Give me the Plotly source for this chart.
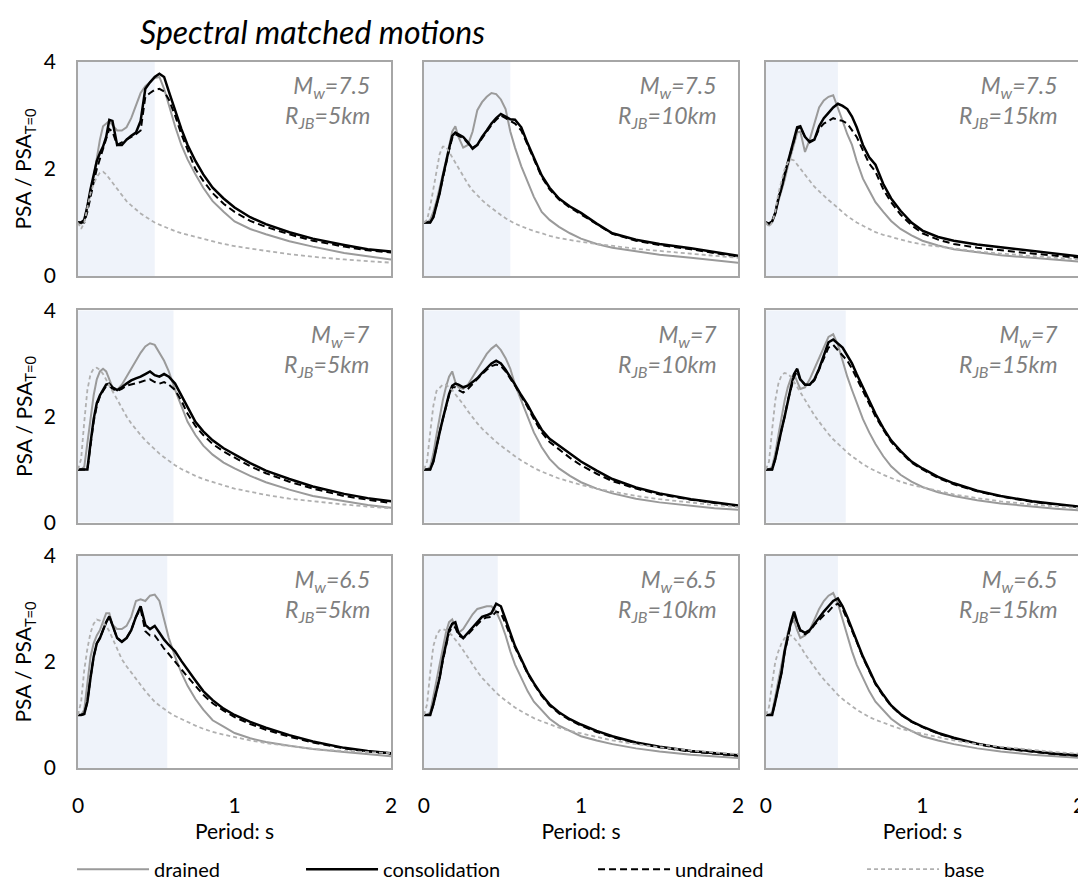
import plotly.graph_objects as go

# ---------------- data ----------------
periods = [0, 0.02, 0.04, 0.06, 0.08, 0.10, 0.12, 0.14, 0.16, 0.18,
           0.20, 0.22, 0.25, 0.28, 0.31, 0.34, 0.37, 0.40, 0.43, 0.46,
           0.49, 0.52, 0.55, 0.58, 0.62, 0.66, 0.70, 0.75, 0.80, 0.86,
           0.93, 1.0, 1.1, 1.2, 1.35, 1.5, 1.7, 1.85, 2.0]

mw_labels = ["7.5", "7", "6.5"]
rjb_labels = ["5", "10", "15"]
series_names = ["drained", "consolidation", "undrained", "base"]
x_ticks = [0, 1, 2]
y_ticks = [0, 2, 4]

# shaded period range upper bound per panel (row-major)
shade_end = [0.49, 0.55, 0.46, 0.61, 0.61, 0.51, 0.57, 0.47, 0.46]

# Mw 7.5
drained_75_5 = [1.0,0.98,1.05,1.3,1.6,1.85,2.2,2.55,2.8,2.85, 2.9,2.82,2.72,2.72,2.78,2.95,3.2,3.42,3.55,3.62, 3.7,3.72,3.5,3.2,2.8,2.45,2.18,1.9,1.65,1.4, 1.2,1.02,0.88,0.78,0.65,0.55,0.43,0.37,0.31]
consol_75_5 = [1.0,1.0,1.05,1.3,1.62,1.9,2.15,2.3,2.42,2.6, 2.92,2.9,2.45,2.45,2.55,2.62,2.68,2.9,3.5,3.62, 3.72,3.78,3.72,3.45,3.1,2.75,2.45,2.15,1.9,1.65, 1.45,1.28,1.1,0.97,0.82,0.7,0.58,0.5,0.46]
undr_75_5 = [1.0,1.0,1.0,1.2,1.5,1.75,2.0,2.2,2.35,2.55, 2.75,2.7,2.45,2.5,2.55,2.6,2.65,2.72,3.35,3.42, 3.48,3.5,3.45,3.3,3.0,2.65,2.35,2.0,1.78,1.55, 1.35,1.2,1.03,0.92,0.78,0.66,0.55,0.48,0.44]
base_75_5 = [1.0,0.88,1.0,1.3,1.55,1.72,1.85,1.93,1.95,1.9, 1.82,1.74,1.62,1.5,1.4,1.32,1.24,1.17,1.11,1.05, 1.0,0.96,0.92,0.88,0.84,0.8,0.77,0.73,0.69,0.65, 0.6,0.56,0.51,0.47,0.41,0.36,0.31,0.28,0.25]

drained_75_10 = [1.0,1.0,1.05,1.2,1.4,1.63,1.9,2.15,2.42,2.7, 2.8,2.6,2.4,2.45,2.7,3.1,3.25,3.35,3.42,3.4, 3.3,3.12,2.7,2.4,2.05,1.75,1.48,1.2,1.05,0.92, 0.8,0.7,0.6,0.53,0.46,0.4,0.34,0.29,0.25]
consol_75_10 = [1.0,1.0,1.0,1.1,1.3,1.55,1.85,2.15,2.38,2.62, 2.68,2.65,2.6,2.5,2.38,2.45,2.6,2.72,2.85,2.95, 3.03,2.98,2.93,2.92,2.78,2.48,2.2,1.88,1.65,1.45, 1.3,1.18,0.98,0.8,0.68,0.6,0.52,0.45,0.38]
undr_75_10 = [1.0,1.0,1.0,1.1,1.3,1.55,1.82,2.12,2.35,2.58, 2.65,2.62,2.58,2.48,2.4,2.45,2.58,2.7,2.82,2.92, 3.0,2.95,2.9,2.85,2.72,2.45,2.18,1.85,1.62,1.43, 1.28,1.15,0.96,0.79,0.66,0.58,0.5,0.43,0.36]
base_75_10 = [1.0,1.05,1.3,1.6,1.95,2.28,2.42,2.42,2.32,2.22, 2.1,2.0,1.85,1.72,1.6,1.5,1.42,1.34,1.27,1.2, 1.14,1.08,1.03,0.98,0.93,0.88,0.84,0.8,0.75,0.71, 0.67,0.64,0.6,0.56,0.51,0.47,0.42,0.38,0.34]

drained_75_15 = [1.0,0.95,1.02,1.15,1.4,1.6,1.8,2.05,2.25,2.45, 2.68,2.7,2.32,2.55,2.85,3.15,3.28,3.35,3.38,3.15, 2.9,2.65,2.45,2.15,1.82,1.6,1.38,1.2,1.03,0.88, 0.76,0.66,0.57,0.5,0.44,0.39,0.34,0.3,0.27]
consol_75_15 = [1.0,0.98,1.02,1.18,1.45,1.65,1.9,2.12,2.3,2.55, 2.78,2.8,2.6,2.5,2.55,2.8,2.95,3.05,3.15,3.22, 3.18,3.12,2.98,2.78,2.45,2.22,2.08,1.72,1.45,1.22, 1.0,0.85,0.73,0.66,0.59,0.54,0.47,0.42,0.37]
undr_75_15 = [1.0,0.98,1.02,1.18,1.45,1.65,1.9,2.12,2.3,2.55, 2.75,2.78,2.6,2.52,2.55,2.75,2.85,2.9,2.95,2.92, 2.9,2.85,2.72,2.6,2.35,2.1,1.95,1.62,1.38,1.15, 0.95,0.8,0.68,0.6,0.53,0.48,0.42,0.38,0.34]
base_75_15 = [1.0,0.92,1.0,1.2,1.55,1.8,2.0,2.12,2.18,2.16, 2.08,2.0,1.9,1.78,1.67,1.58,1.5,1.42,1.35,1.27, 1.2,1.12,1.06,1.0,0.94,0.88,0.82,0.77,0.73,0.68, 0.63,0.59,0.55,0.51,0.46,0.42,0.37,0.34,0.31]

# Mw 7
drained_7_5 = [1.0,1.0,1.05,1.5,2.0,2.4,2.7,2.85,2.9,2.85, 2.7,2.55,2.5,2.6,2.75,2.9,3.05,3.2,3.32,3.38, 3.35,3.2,3.05,2.85,2.5,2.2,1.9,1.65,1.45,1.28, 1.13,1.02,0.88,0.76,0.62,0.5,0.4,0.33,0.28]
consol_7_5 = [1.0,1.0,1.0,1.0,1.5,1.95,2.25,2.4,2.5,2.6, 2.62,2.55,2.5,2.55,2.62,2.68,2.72,2.75,2.8,2.85, 2.78,2.75,2.8,2.75,2.62,2.4,2.15,1.9,1.72,1.55, 1.4,1.28,1.12,0.98,0.82,0.68,0.54,0.46,0.4]
undr_7_5 = [1.0,1.0,1.0,1.0,1.45,1.9,2.2,2.38,2.48,2.57, 2.58,2.52,2.48,2.52,2.58,2.6,2.62,2.65,2.68,2.7, 2.65,2.62,2.65,2.6,2.5,2.3,2.05,1.82,1.65,1.48, 1.34,1.22,1.06,0.93,0.77,0.64,0.5,0.43,0.37]
base_7_5 = [1.0,1.2,1.9,2.5,2.8,2.9,2.92,2.88,2.8,2.7, 2.6,2.48,2.32,2.15,2.0,1.87,1.75,1.65,1.55,1.46, 1.38,1.3,1.23,1.16,1.08,1.01,0.95,0.88,0.82,0.76, 0.7,0.64,0.58,0.52,0.45,0.4,0.34,0.3,0.27]

drained_7_10 = [1.0,1.0,1.05,1.3,1.65,2.0,2.3,2.55,2.75,2.85, 2.65,2.55,2.52,2.6,2.75,2.9,3.05,3.18,3.28,3.35, 3.25,3.1,2.9,2.6,2.3,2.0,1.7,1.42,1.2,1.02, 0.88,0.76,0.64,0.55,0.45,0.38,0.31,0.27,0.24]
consol_7_10 = [1.0,1.0,1.0,1.15,1.45,1.7,1.95,2.2,2.42,2.58, 2.62,2.6,2.55,2.58,2.65,2.72,2.82,2.92,3.0,3.05, 3.0,2.88,2.75,2.6,2.4,2.22,2.0,1.75,1.58,1.45, 1.3,1.15,0.98,0.82,0.66,0.55,0.44,0.38,0.32]
undr_7_10 = [1.0,1.0,1.0,1.15,1.45,1.7,1.95,2.2,2.4,2.55, 2.55,2.5,2.45,2.52,2.62,2.7,2.8,2.88,2.95,2.98, 2.95,2.85,2.72,2.58,2.38,2.18,1.95,1.7,1.52,1.38, 1.22,1.08,0.92,0.78,0.64,0.53,0.43,0.37,0.31]
base_7_10 = [1.0,1.15,1.7,2.2,2.48,2.55,2.6,2.6,2.55,2.5, 2.42,2.35,2.23,2.1,1.98,1.87,1.77,1.68,1.6,1.52, 1.45,1.38,1.31,1.25,1.17,1.1,1.03,0.96,0.9,0.83, 0.77,0.71,0.64,0.58,0.5,0.44,0.37,0.33,0.29]

drained_7_15 = [1.0,1.0,1.05,1.3,1.65,2.0,2.3,2.55,2.72,2.8, 2.65,2.52,2.55,2.7,2.9,3.1,3.3,3.5,3.55,3.35, 3.05,2.75,2.5,2.25,1.95,1.7,1.48,1.25,1.06,0.9, 0.77,0.67,0.57,0.5,0.42,0.36,0.3,0.26,0.23]
consol_7_15 = [1.0,1.0,1.0,1.2,1.5,1.75,2.0,2.3,2.55,2.8, 2.9,2.7,2.6,2.6,2.7,2.9,3.15,3.4,3.45,3.38, 3.3,3.15,3.0,2.8,2.55,2.3,2.05,1.78,1.55,1.35, 1.15,1.02,0.86,0.74,0.6,0.5,0.4,0.35,0.3]
undr_7_15 = [1.0,1.0,1.0,1.2,1.5,1.75,2.0,2.3,2.52,2.75, 2.85,2.68,2.6,2.6,2.68,2.88,3.1,3.3,3.35,3.25, 3.15,3.05,2.9,2.72,2.5,2.25,2.0,1.75,1.52,1.33, 1.13,1.0,0.84,0.72,0.59,0.49,0.39,0.34,0.29]
base_7_15 = [1.0,1.15,1.75,2.3,2.62,2.78,2.82,2.8,2.75,2.65, 2.55,2.45,2.3,2.15,2.02,1.9,1.78,1.67,1.57,1.48, 1.4,1.32,1.25,1.18,1.1,1.03,0.97,0.9,0.84,0.77, 0.71,0.66,0.59,0.53,0.46,0.4,0.34,0.3,0.27]

# Mw 6.5
drained_65_5 = [1.0,1.0,1.1,1.6,2.1,2.35,2.5,2.6,2.75,2.92, 2.92,2.7,2.62,2.62,2.68,2.85,3.15,3.18,3.15,3.25, 3.27,3.15,2.8,2.45,2.1,1.8,1.55,1.3,1.1,0.9, 0.78,0.66,0.56,0.49,0.42,0.36,0.3,0.26,0.22]
consol_65_5 = [1.0,1.0,1.02,1.25,1.7,2.1,2.35,2.45,2.6,2.75, 2.86,2.7,2.45,2.38,2.45,2.6,2.85,3.05,2.7,2.62, 2.68,2.55,2.42,2.32,2.2,2.02,1.85,1.65,1.45,1.28, 1.12,1.0,0.87,0.76,0.62,0.5,0.38,0.32,0.28]
undr_65_5 = [1.0,1.0,1.02,1.25,1.7,2.1,2.35,2.45,2.6,2.75, 2.86,2.7,2.45,2.38,2.45,2.6,2.85,3.0,2.58,2.5, 2.5,2.38,2.25,2.15,2.0,1.85,1.72,1.55,1.38,1.22, 1.08,0.96,0.83,0.72,0.59,0.48,0.37,0.31,0.27]
base_65_5 = [1.0,1.25,1.85,2.25,2.55,2.72,2.8,2.78,2.74,2.68, 2.58,2.45,2.25,2.05,1.92,1.8,1.68,1.57,1.45,1.35, 1.25,1.18,1.11,1.05,0.98,0.92,0.86,0.8,0.74,0.68, 0.63,0.58,0.52,0.47,0.41,0.36,0.32,0.3,0.28]

drained_65_10 = [1.0,1.0,1.05,1.35,1.7,2.0,2.3,2.55,2.75,2.8, 2.65,2.55,2.62,2.75,2.9,3.0,3.02,3.05,3.05,2.95, 2.75,2.5,2.2,1.95,1.7,1.45,1.25,1.08,0.93,0.8, 0.7,0.6,0.52,0.45,0.37,0.31,0.25,0.22,0.19]
consol_65_10 = [1.0,1.0,1.0,1.2,1.45,1.7,2.05,2.35,2.6,2.72, 2.75,2.55,2.45,2.55,2.65,2.75,2.85,2.88,2.92,3.1, 3.05,2.8,2.55,2.3,2.05,1.8,1.6,1.38,1.2,1.05, 0.92,0.82,0.7,0.6,0.48,0.4,0.32,0.28,0.24]
undr_65_10 = [1.0,1.0,1.0,1.2,1.45,1.7,2.02,2.32,2.56,2.66, 2.65,2.5,2.45,2.52,2.62,2.72,2.8,2.84,2.85,2.95, 2.92,2.72,2.5,2.27,2.03,1.78,1.58,1.36,1.18,1.03, 0.9,0.8,0.68,0.58,0.47,0.39,0.31,0.27,0.23]
base_65_10 = [1.0,1.2,1.8,2.3,2.5,2.6,2.62,2.6,2.55,2.5, 2.42,2.35,2.22,2.08,1.95,1.82,1.7,1.6,1.5,1.42, 1.34,1.27,1.2,1.14,1.07,1.0,0.94,0.88,0.82,0.76, 0.7,0.65,0.58,0.52,0.45,0.39,0.33,0.29,0.26]

drained_65_15 = [1.0,1.0,1.05,1.35,1.7,2.0,2.3,2.55,2.72,2.78, 2.6,2.45,2.5,2.6,2.8,3.0,3.15,3.25,3.3,3.1, 2.8,2.5,2.2,1.95,1.7,1.45,1.25,1.08,0.93,0.8, 0.7,0.6,0.52,0.45,0.37,0.31,0.25,0.22,0.19]
consol_65_15 = [1.0,1.0,1.0,1.25,1.55,1.8,2.2,2.5,2.75,2.95, 2.75,2.6,2.55,2.6,2.72,2.85,2.95,3.05,3.15,3.2, 3.05,2.85,2.62,2.4,2.1,1.85,1.6,1.38,1.18,1.02, 0.88,0.78,0.66,0.57,0.46,0.38,0.31,0.27,0.24]
undr_65_15 = [1.0,1.0,1.0,1.25,1.55,1.8,2.18,2.48,2.72,2.9, 2.72,2.58,2.52,2.58,2.7,2.8,2.88,2.95,3.05,3.1, 3.0,2.8,2.6,2.38,2.08,1.83,1.58,1.36,1.17,1.01, 0.87,0.77,0.65,0.56,0.45,0.37,0.3,0.26,0.23]
base_65_15 = [1.0,1.15,1.6,2.0,2.2,2.35,2.45,2.5,2.5,2.45, 2.38,2.3,2.15,2.02,1.9,1.78,1.67,1.57,1.47,1.38, 1.3,1.23,1.16,1.1,1.03,0.96,0.91,0.85,0.8,0.74, 0.69,0.64,0.58,0.52,0.45,0.4,0.34,0.3,0.27]

panels = [
    (drained_75_5, consol_75_5, undr_75_5, base_75_5),
    (drained_75_10, consol_75_10, undr_75_10, base_75_10),
    (drained_75_15, consol_75_15, undr_75_15, base_75_15),
    (drained_7_5, consol_7_5, undr_7_5, base_7_5),
    (drained_7_10, consol_7_10, undr_7_10, base_7_10),
    (drained_7_15, consol_7_15, undr_7_15, base_7_15),
    (drained_65_5, consol_65_5, undr_65_5, base_65_5),
    (drained_65_10, consol_65_10, undr_65_10, base_65_10),
    (drained_65_15, consol_65_15, undr_65_15, base_65_15),
]

# ---------------- styling ----------------
FONT = "Lato, 'Open Sans', sans-serif"
line_styles = [
    dict(color="#9a9a9a", width=2),
    dict(color="#000000", width=2.5),
    dict(color="#000000", width=2, dash="7px,4px"),
    dict(color="#b0b0b0", width=1.8, dash="4px,3px"),
]
legend_widths = [142, 205, 182, 100]

W, H = 1086, 890
ML, MR, MT, MB = 70, 9, 54, 117
PW, PH = W - ML - MR, H - MT - MB
col_px = [(70, 385), (418, 734), (762, 1077)]
row_px = [(54, 272), (307, 523), (557, 773)]

fig = go.Figure()
layout = dict(
    width=W, height=H,
    margin=dict(l=ML, r=MR, t=MT, b=MB),
    paper_bgcolor="white", plot_bgcolor="white",
    font=dict(family=FONT, size=20, color="#000000"),
    showlegend=True,
    legend=dict(orientation="h", x=(64 - ML) / PW, xanchor="left",
                y=(H - MB - 876) / PH, yanchor="middle",
                font=dict(family=FONT, size=20, color="#000000"),
                itemwidth=72, entrywidthmode="pixels",
                bgcolor="rgba(0,0,0,0)", traceorder="normal"),
)
shapes = []
annotations = []

for k, series in enumerate(panels):
    r, c = divmod(k, 3)
    n = k + 1
    xa = "x" if n == 1 else f"x{n}"
    ya = "y" if n == 1 else f"y{n}"
    for s, (vals, st) in enumerate(zip(series, line_styles)):
        fig.add_trace(go.Scatter(
            x=periods, y=vals, mode="lines", line=st,
            name=series_names[s], showlegend=(k == 0),
            legendwidth=legend_widths[s],
            xaxis=xa, yaxis=ya, hoverinfo="skip"))
    x0, x1 = col_px[c]
    y0, y1 = row_px[r]
    axis_common = dict(showline=True, mirror=True, linecolor="#a6a6a6",
                       linewidth=1.5, showgrid=False, zeroline=False,
                       ticks="")
    xdef = dict(domain=[(x0 - ML) / PW, (x1 - ML) / PW], range=[0, 2],
                anchor=ya, tickvals=x_ticks, showticklabels=(r == 2),
                tickfont=dict(size=21), ticklabelstandoff=18,
                **axis_common)
    if r == 2:
        xdef["title"] = dict(text="Period: s", font=dict(size=21),
                             standoff=8)
    ydef = dict(domain=[(H - MB - y1) / PH, (H - MB - y0) / PH], range=[0, 4],
                anchor=xa, tickvals=y_ticks, showticklabels=(c == 0),
                tickfont=dict(size=21), ticklabelstandoff=16,
                **axis_common)
    if c == 0:
        ydef["title"] = dict(text="PSA / PSA<sub>T=0</sub>",
                             font=dict(size=21), standoff=6)
    layout["xaxis" if n == 1 else f"xaxis{n}"] = xdef
    layout["yaxis" if n == 1 else f"yaxis{n}"] = ydef
    shapes.append(dict(type="rect", xref=xa, yref=f"{ya} domain",
                       x0=0, x1=shade_end[k], y0=0, y1=1,
                       fillcolor="#eff3fa", line=dict(width=0),
                       layer="below"))
    annotations.append(dict(
        xref=f"{xa} domain", yref=f"{ya} domain", x=0.94, y=0.965,
        xanchor="right", yanchor="top", align="right", showarrow=False,
        text=(f"<i>M<sub>w</sub>=" + mw_labels[r] + "</i><br>"
              f"<i>R<sub>JB</sub>=" + rjb_labels[c] + "km</i>"),
        font=dict(family=FONT, size=23, color="#7f7f7f")))

annotations.append(dict(
    xref="paper", yref="paper", x=(306 - ML) / PW, y=(H - MB - 23) / PH,
    xanchor="center", yanchor="middle", showarrow=False,
    text="<i>Spectral matched motions</i>",
    font=dict(family=FONT, size=32, color="#000000")))

layout["shapes"] = shapes
layout["annotations"] = annotations
fig.update_layout(**layout)
fig.write_html("out.html")
